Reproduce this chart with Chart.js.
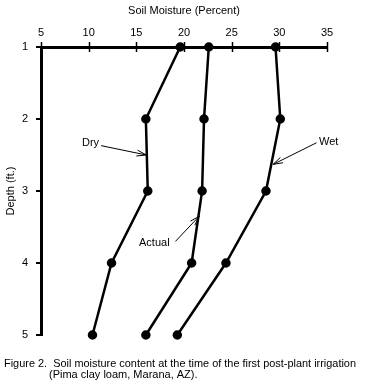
<!DOCTYPE html>
<html>
<head>
<meta charset="utf-8">
<script src="https://cdn.jsdelivr.net/npm/chart.js@4"></script>
<style>
  html, body { margin: 0; padding: 0; background: #fff; }
  #wrap { width: 374px; height: 385px; }
</style>
</head>
<body>
<div id="wrap"><canvas id="myChart" width="374" height="385"></canvas></div>
<script>
// profundidade (ft.)
const depths = [1, 2, 3, 4, 5];

// umidade do solo (%) por profundidade
const dry = [19.6, 16.0, 16.2, 12.4, 10.4];
const actual = [22.6, 22.1, 21.9, 20.8, 16.0];
const wet = [29.6, 30.1, 28.6, 24.4, 19.3];

const seriesNames = ['Dry', 'Actual', 'Wet'];
const xTicks = [5, 10, 15, 20, 25, 30, 35];
const yTicks = [1, 2, 3, 4, 5];

const caption = [
    'Figure 2.  Soil moisture content at the time of the first post-plant irrigation',
    '(Pima clay loam, Marana, AZ).'
];

const FONT = '"Liberation Sans", Arial, sans-serif';

function toPoints(vals) {
    return depths.map((d, i) => ({ x: vals[i], y: d }));
}

function serie(label, vals) {
    return {
        label: label,
        data: toPoints(vals),
        showLine: true,
        borderColor: '#000',
        backgroundColor: '#000',
        borderWidth: 2.5,
        pointRadius: 3.5,
        pointHoverRadius: 3.5,
        clip: false
    };
}

// setas e rotulos das series (coordenadas em valores dos eixos)
const setas = [
    { text: seriesNames[0], tx: 82, ty: 143, from: [11.3, 2.37], to: [16.05, 2.5] },
    { text: seriesNames[1], tx: 139, ty: 243, from: [19.1, 3.70], to: [21.6, 3.35] },
    { text: seriesNames[2], tx: 319, ty: 142, from: [33.9, 2.33], to: [29.35, 2.63] }
];

const extras = {
    id: 'extras',
    afterDraw(chart) {
        const ctx = chart.ctx;
        const xs = chart.scales.x, ys = chart.scales.y;
        const top = chart.chartArea.top;
        ctx.save();
        ctx.strokeStyle = '#000';
        // marcas do eixo x cruzando a linha
        ctx.lineWidth = 1.5;
        xTicks.forEach(v => {
            const px = Math.round(xs.getPixelForValue(v)) + 0.5;
            ctx.beginPath();
            ctx.moveTo(px, top - 5);
            ctx.lineTo(px, top + 5);
            ctx.stroke();
        });
        // setas
        ctx.font = '11px ' + FONT;
        ctx.fillStyle = '#000';
        ctx.textBaseline = 'middle';
        ctx.lineWidth = 1;
        setas.forEach(s => {
            const x1 = xs.getPixelForValue(s.from[0]), y1 = ys.getPixelForValue(s.from[1]);
            const x2 = xs.getPixelForValue(s.to[0]), y2 = ys.getPixelForValue(s.to[1]);
            ctx.beginPath();
            ctx.moveTo(x1, y1);
            ctx.lineTo(x2, y2);
            const ang = Math.atan2(y2 - y1, x2 - x1);
            [0.3, -0.3].forEach(d => {
                ctx.moveTo(x2, y2);
                ctx.lineTo(x2 - 10 * Math.cos(ang + d), y2 - 10 * Math.sin(ang + d));
            });
            ctx.stroke();
            ctx.fillText(s.text, s.tx, s.ty);
        });
        // legenda da figura
        ctx.textBaseline = 'alphabetic';
        ctx.fillText(caption[0], 4, 367, 352);
        ctx.fillText(caption[1], 49, 378);
        ctx.restore();
    }
};

const config = {
    type: 'scatter',
    data: {
        datasets: [serie(seriesNames[0], dry), serie(seriesNames[1], actual), serie(seriesNames[2], wet)]
    },
    options: {
        responsive: false,
        animation: false,
        layout: { padding: { left: 0, top: 0, right: 47, bottom: 50 } },
        scales: {
            x: {
                type: 'linear',
                position: 'top',
                min: 5,
                max: 35,
                afterBuildTicks: s => { s.ticks = xTicks.map(v => ({ value: v })); },
                afterFit: s => { s.height = 47; },
                ticks: {
                    color: '#000',
                    font: { family: FONT, size: 11 },
                    padding: 7
                },
                grid: { display: false, drawTicks: false },
                border: { display: true, color: '#000', width: 3 },
                title: {
                    display: true,
                    text: 'Soil Moisture (Percent)',
                    color: '#000',
                    font: { family: FONT, size: 11 },
                    padding: { top: 4, bottom: 4 }
                }
            },
            y: {
                type: 'linear',
                reverse: true,
                min: 1,
                max: 5,
                afterBuildTicks: s => { s.ticks = yTicks.map(v => ({ value: v })); },
                afterFit: s => { s.width = 41; },
                ticks: {
                    color: '#000',
                    font: { family: FONT, size: 11 },
                    padding: 8
                },
                grid: {
                    drawOnChartArea: false,
                    color: '#000',
                    lineWidth: 2,
                    tickLength: 5
                },
                border: { display: true, color: '#000', width: 3 },
                title: {
                    display: true,
                    text: 'Depth (ft.)',
                    color: '#000',
                    font: { family: FONT, size: 11 },
                    padding: { top: 4, bottom: 2 }
                }
            }
        },
        plugins: {
            legend: { display: false },
            tooltip: { enabled: false }
        }
    },
    plugins: [extras]
};

const myChart = new Chart(document.getElementById('myChart'), config);
</script>
</body>
</html>
